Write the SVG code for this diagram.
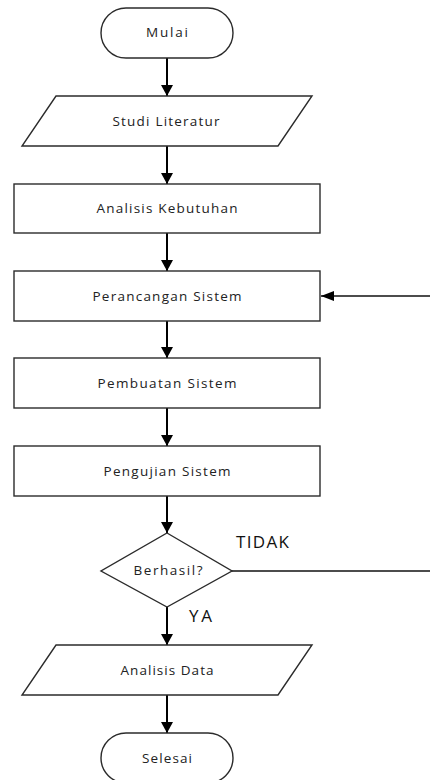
<svg xmlns="http://www.w3.org/2000/svg" width="430" height="780" viewBox="0 0 430 780">
<style>
.shape{fill:#fff;stroke:#2b2b2b;stroke-width:1.4}
.lbl{font-family:"Open Sans","DejaVu Sans",sans-serif;font-size:13.5px;fill:#222;text-anchor:middle}
.side{font-family:"Open Sans","DejaVu Sans",sans-serif;font-size:17px;fill:#111}
.v{stroke:#000;stroke-width:2;fill:none}
.h{stroke:#111;stroke-width:1.4;fill:none}
</style>
<defs>
<marker id="ah" markerUnits="userSpaceOnUse" markerWidth="12" markerHeight="12" refX="11" refY="6" orient="auto">
<path d="M0,0 L11,6 L0,12 Z" fill="#000"/>
</marker>
<marker id="ahs" markerUnits="userSpaceOnUse" markerWidth="14" markerHeight="10" refX="13" refY="5" orient="auto">
<path d="M0,0 L13,5 L0,10 Z" fill="#000"/>
</marker>
</defs>
<g id="connectors">
<line class="v" x1="167" y1="58" x2="167" y2="96" marker-end="url(#ah)"/>
<line class="v" x1="167" y1="146" x2="167" y2="184" marker-end="url(#ah)"/>
<line class="v" x1="167" y1="233" x2="167" y2="271" marker-end="url(#ah)"/>
<line class="v" x1="167" y1="321" x2="167" y2="358" marker-end="url(#ah)"/>
<line class="v" x1="167" y1="408" x2="167" y2="446" marker-end="url(#ah)"/>
<line class="v" x1="167" y1="496" x2="167" y2="533" marker-end="url(#ah)"/>
<line class="v" x1="167" y1="607" x2="167" y2="645" marker-end="url(#ah)"/>
<line class="v" x1="167" y1="695" x2="167" y2="733" marker-end="url(#ah)"/>
<line class="h" x1="232" y1="571" x2="430" y2="571"/>
<line class="h" x1="430" y1="296" x2="321" y2="296" marker-end="url(#ahs)"/>
<text class="side" x="236" y="548" textLength="53" lengthAdjust="spacing">TIDAK</text>
<text class="side" x="189" y="622" textLength="23" lengthAdjust="spacing">YA</text>
</g>
<g id="mulai">
<rect class="shape" x="101" y="8" width="132" height="50" rx="25" ry="25"/>
<text class="lbl" x="167" y="37" textLength="42" lengthAdjust="spacing">Mulai</text>
</g>
<g id="studi-literatur">
<polygon class="shape" points="56,96 312,96 278,146 22,146"/>
<text class="lbl" x="166" y="126" textLength="107" lengthAdjust="spacing">Studi Literatur</text>
</g>
<g id="analisis-kebutuhan">
<rect class="shape" x="14" y="184" width="306" height="49"/>
<text class="lbl" x="167" y="213" textLength="141" lengthAdjust="spacing">Analisis Kebutuhan</text>
</g>
<g id="perancangan-sistem">
<rect class="shape" x="14" y="271" width="306" height="50"/>
<text class="lbl" x="167" y="301" textLength="149" lengthAdjust="spacing">Perancangan Sistem</text>
</g>
<g id="pembuatan-sistem">
<rect class="shape" x="14" y="358" width="306" height="50"/>
<text class="lbl" x="167" y="388" textLength="139" lengthAdjust="spacing">Pembuatan Sistem</text>
</g>
<g id="pengujian-sistem">
<rect class="shape" x="14" y="446" width="306" height="50"/>
<text class="lbl" x="167" y="476" textLength="127" lengthAdjust="spacing">Pengujian Sistem</text>
</g>
<g id="berhasil">
<polygon class="shape" points="167,533 232,571 167,607 101,571"/>
<text class="lbl" x="168" y="575" textLength="69" lengthAdjust="spacing">Berhasil?</text>
</g>
<g id="analisis-data">
<polygon class="shape" points="56,645 312,645 278,695 22,695"/>
<text class="lbl" x="167" y="675" textLength="93" lengthAdjust="spacing">Analisis Data</text>
</g>
<g id="selesai">
<rect class="shape" x="101" y="733" width="132" height="50" rx="25" ry="25"/>
<text class="lbl" x="167" y="763" textLength="50" lengthAdjust="spacing">Selesai</text>
</g>
</svg>
